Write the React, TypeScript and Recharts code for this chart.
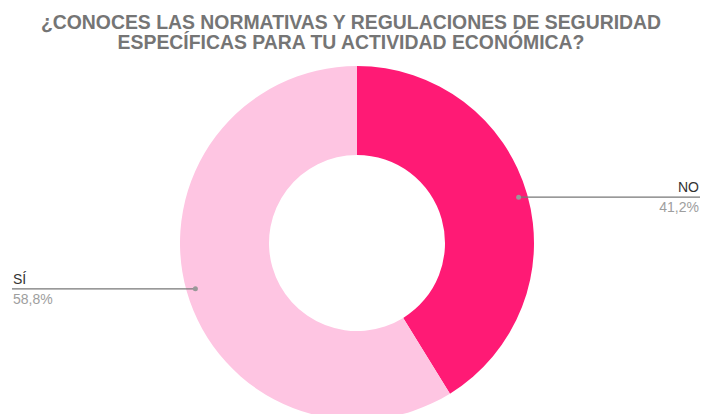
import React from 'react';
import { PieChart, Pie, Cell } from 'recharts';

const categories = ['NO', 'SÍ'];
const values = [41.2, 58.8];
const valueLabels = ['41,2%', '58,8%'];
const colors = ['#FF1A75', '#FEC5E2'];

const data = categories.map((name, i) => ({ name, value: values[i], label: valueLabels[i] }));

const W = 702;
const H = 414;

const renderLabel = (props: any) => {
  const { cx, cy, midAngle, outerRadius, index } = props;
  const RAD = Math.PI / 180;
  const r = outerRadius - 9;
  const x = cx + r * Math.cos(-midAngle * RAD);
  const y = cy + r * Math.sin(-midAngle * RAD);
  const right = x > cx;
  const endX = right ? 700 : 12;
  const anchor = right ? 'end' : 'start';
  const tx = right ? 699 : 13;
  return (
    <g key={`lbl-${index}`}>
      <line x1={x} y1={y} x2={endX} y2={y} stroke="#777" strokeWidth={1.2} />
      <circle cx={x} cy={y} r={2.5} fill="#999" />
      <text x={tx} y={y - 5} textAnchor={anchor} fill="#333" fontSize={14} fontFamily="Liberation Sans, Arial, sans-serif">
        {data[index].name}
      </text>
      <text x={tx} y={y + 15} textAnchor={anchor} fill="#9e9e9e" fontSize={14} fontFamily="Liberation Sans, Arial, sans-serif">
        {data[index].label}
      </text>
    </g>
  );
};

export default function App() {
  return (
    <div style={{ position: 'absolute', left: 0, top: 0, width: W, height: H, background: '#fff', overflow: 'hidden' }}>
      <div
        style={{
          position: 'absolute',
          left: 0,
          top: 12,
          width: W,
          textAlign: 'center',
          fontFamily: 'Liberation Sans, Arial, sans-serif',
          fontWeight: 'bold',
          fontSize: 19.4,
          lineHeight: '20px',
          color: '#757575',
        }}
      >
        ¿CONOCES LAS NORMATIVAS Y REGULACIONES DE SEGURIDAD
        <br />
        ESPECÍFICAS PARA TU ACTIVIDAD ECONÓMICA?
      </div>
      <PieChart width={W} height={H} margin={{ top: 0, right: 0, bottom: 0, left: 0 }} style={{ position: 'absolute', left: 0, top: 0 }}>
        <Pie
          data={data}
          dataKey="value"
          nameKey="name"
          cx={357}
          cy={243}
          innerRadius={88}
          outerRadius={177}
          startAngle={90}
          endAngle={-270}
          stroke="none"
          label={renderLabel}
          labelLine={false}
          isAnimationActive={false}
        >
          {data.map((d, i) => (
            <Cell key={d.name} fill={colors[i]} />
          ))}
        </Pie>
      </PieChart>
    </div>
  );
}
